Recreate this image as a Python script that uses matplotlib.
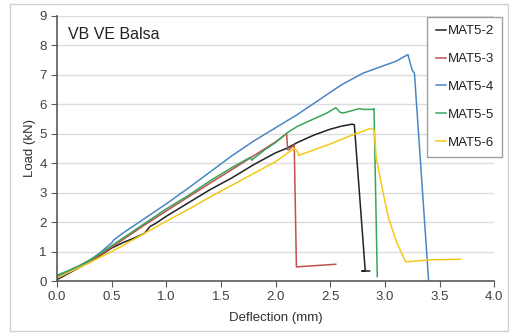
import matplotlib
matplotlib.use("Agg")
import matplotlib.pyplot as plt
from matplotlib.patches import Rectangle

plt.rcParams["font.family"] = ["Liberation Sans", "DejaVu Sans"]

# Load-deflection curves
mat2_x = [0, 0.1, 0.2, 0.3, 0.4, 0.5, 0.6, 0.7, 0.8, 0.85, 0.9, 1.0, 1.2, 1.4, 1.6, 1.8, 2.0,
          2.1, 2.2, 2.35, 2.5, 2.6, 2.7, 2.72, 2.82, 2.79, 2.86]
mat2_y = [0.05, 0.25, 0.45, 0.65, 0.88, 1.12, 1.3, 1.45, 1.62, 1.85, 1.95, 2.2, 2.65, 3.1, 3.5, 3.95, 4.35,
          4.5, 4.7, 4.95, 5.15, 5.25, 5.32, 5.3, 0.34, 0.34, 0.34]

mat3_x = [0, 0.1, 0.2, 0.3, 0.4, 0.5, 0.6, 0.8, 1.0, 1.2, 1.4, 1.6, 1.8, 2.0, 2.1, 2.11, 2.12,
          2.17, 2.19, 2.55]
mat3_y = [0.12, 0.3, 0.48, 0.68, 0.9, 1.15, 1.4, 1.9, 2.38, 2.85, 3.32, 3.78, 4.25, 4.72, 5.0, 4.45, 4.45,
          4.62, 0.48, 0.57]

mat4_x = [0, 0.1, 0.2, 0.3, 0.4, 0.5, 0.52, 0.6, 0.8, 1.0, 1.2, 1.4, 1.6, 1.8, 2.0, 2.2, 2.4, 2.6,
          2.8, 3.0, 3.1, 3.21, 3.25, 3.27, 3.40]
mat4_y = [0.15, 0.3, 0.48, 0.7, 0.98, 1.3, 1.4, 1.62, 2.12, 2.62, 3.15, 3.7, 4.25, 4.75, 5.2, 5.65, 6.15, 6.65,
          7.05, 7.32, 7.45, 7.68, 7.15, 7.05, 0.0]

mat5_x = [0, 0.1, 0.2, 0.3, 0.4, 0.5, 0.6, 0.8, 1.0, 1.2, 1.4, 1.6, 1.77, 1.78, 1.9, 2.0, 2.11, 2.2,
          2.32, 2.47, 2.55, 2.59, 2.62, 2.7, 2.77, 2.8, 2.89, 2.90, 2.93]
mat5_y = [0.2, 0.35, 0.52, 0.72, 0.95, 1.2, 1.45, 1.95, 2.45, 2.9, 3.4, 3.85, 4.2, 4.1, 4.45, 4.7, 5.04, 5.25,
          5.45, 5.7, 5.88, 5.72, 5.7, 5.78, 5.85, 5.82, 5.82, 5.85, 0.15]

mat6_x = [0, 0.1, 0.2, 0.3, 0.4, 0.5, 0.6, 0.8, 1.0, 1.2, 1.4, 1.6, 1.8, 2.0, 2.17, 2.2, 2.21, 2.3,
          2.5, 2.7, 2.87, 2.9, 2.92, 2.96, 3.03, 3.11, 3.19, 3.42, 3.69]
mat6_y = [0.1, 0.28, 0.45, 0.63, 0.82, 1.0, 1.2, 1.62, 2.03, 2.43, 2.85, 3.25, 3.65, 4.05, 4.5, 4.4, 4.26, 4.38,
          4.65, 4.95, 5.18, 5.12, 4.2, 3.42, 2.17, 1.29, 0.65, 0.72, 0.74]

labels = ["MAT5-2", "MAT5-3", "MAT5-4", "MAT5-5", "MAT5-6"]
colors = ["#222222", "#c0504d", "#4a86c5", "#3aa55a", "#f6c818"]

fig = plt.figure(figsize=(5.1, 3.33), dpi=100)
ax = fig.add_axes([0.112, 0.156, 0.857, 0.797])

series = [(mat2_x, mat2_y), (mat3_x, mat3_y), (mat4_x, mat4_y), (mat5_x, mat5_y), (mat6_x, mat6_y)]
for (xs, ys), lab, c in zip(series, labels, colors):
    ax.plot(xs, ys, color=c, lw=1.1, label=lab)

ax.set_xlim(0, 4)
ax.set_ylim(0, 9)
ax.set_xticks([0, 0.5, 1.0, 1.5, 2.0, 2.5, 3.0, 3.5, 4.0])
ax.set_xticklabels(["0.0", "0.5", "1.0", "1.5", "2.0", "2.5", "3.0", "3.5", "4.0"])
ax.set_yticks(range(10))
ax.grid(axis="y", color="#dcdcdc", lw=1)
ax.set_axisbelow(True)

for s in ["top", "right"]:
    ax.spines[s].set_visible(False)
for s in ["left", "bottom"]:
    ax.spines[s].set_color("#5a5a5a")
    ax.spines[s].set_linewidth(1.2)
ax.tick_params(direction="out", length=4, color="#5a5a5a", labelsize=9.5, labelcolor="#404040")

ax.set_xlabel("Deflection (mm)", fontsize=9.5, color="#303030", labelpad=6)
ax.set_ylabel("Load (kN)", fontsize=9.5, color="#303030", labelpad=2)
ax.text(0.025, 0.93, "VB VE Balsa", transform=ax.transAxes, fontsize=11.5, color="#222222", va="center")

leg = ax.legend(loc="upper right", bbox_to_anchor=(0.985, 0.95), bbox_transform=fig.transFigure,
                fontsize=9.5, handlelength=0.8, handletextpad=0.1, labelspacing=1.18,
                borderpad=0.65, borderaxespad=0, fancybox=False, framealpha=1)
leg.get_frame().set_edgecolor("#a0a0a0")
for t in leg.get_texts():
    t.set_color("#222222")

# light frame around the whole chart
fig.patches.append(Rectangle((0.0196, 0.006), 0.976, 0.982, transform=fig.transFigure,
                             fill=False, edgecolor="#d0d0d0", lw=1))

fig.savefig("out.png", dpi=100)
